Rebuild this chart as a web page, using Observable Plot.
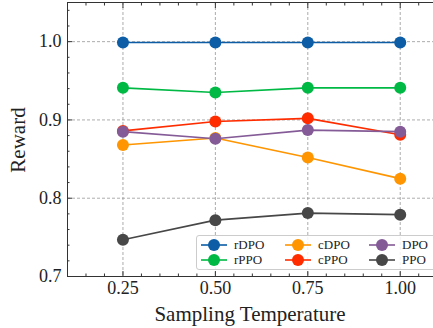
<!DOCTYPE html>
<html><head><meta charset="utf-8">
<script src="https://cdn.jsdelivr.net/npm/d3@7"></script>
<script src="https://cdn.jsdelivr.net/npm/@observablehq/plot@0.6"></script>
<style>
body{margin:0;background:#fff;}
#wrap{position:relative;width:433px;height:328px;font-family:"Liberation Serif","DejaVu Serif",serif;}
#legend{position:absolute;left:196px;top:235px;width:240px;height:35px;background:rgba(255,255,255,0.85);border:1px solid #ccc;border-radius:3px;box-sizing:border-box;}
#legend .item{position:absolute;font-size:13px;color:#222;display:flex;align-items:center;}
</style>
</head><body>
<div id="wrap"><div id="chart"></div><div id="legend"></div></div>
<script>
const temps = [0.25, 0.50, 0.75, 1.00];
const series = ["rDPO", "rPPO", "cDPO", "cPPO", "DPO", "PPO"];
const colors = ["#0C5DA5", "#00B945", "#FF9500", "#FF2C00", "#845B97", "#474747"];
const rDPO = [0.999, 0.999, 0.999, 0.999];
const rPPO = [0.941, 0.935, 0.941, 0.941];
const cDPO = [0.868, 0.877, 0.852, 0.825];
const cPPO = [0.886, 0.898, 0.902, 0.881];
const DPO  = [0.885, 0.876, 0.887, 0.885];
const PPO  = [0.747, 0.772, 0.781, 0.779];
const xTicks = [0.25, 0.50, 0.75, 1.00];
const yTicks = [0.7, 0.8, 0.9, 1.0];

const values = {rDPO, rPPO, cDPO, cPPO, DPO, PPO};
const data = series.flatMap(s => temps.map((t, i) => ({series: s, t, v: values[s][i]})));
const xMinor = d3.range(0.1, 1.1, 0.05).map(d => +d.toFixed(2)).filter(d => !xTicks.includes(d));
const yMinor = d3.range(0.7, 1.05, 0.02).map(d => +d.toFixed(2)).filter(d => !yTicks.some(t => Math.abs(t - d) < 1e-9));

const font = "Liberation Serif, DejaVu Serif, serif";
const chart = Plot.plot({
  width: 433, height: 328,
  marginLeft: 67, marginRight: 0, marginTop: 2, marginBottom: 52,
  style: {fontFamily: font, fontSize: "18px", color: "#222", background: "transparent"},
  x: {domain: [0.1, 1.09], label: null},
  y: {domain: [0.7, 1.05], label: null},
  color: {domain: series, range: colors},
  marks: [
    Plot.gridX(xTicks, {stroke: "#888", strokeOpacity: 1, strokeWidth: 0.7, strokeDasharray: "3,2"}),
    Plot.gridY(yTicks, {stroke: "#888", strokeOpacity: 1, strokeWidth: 0.7, strokeDasharray: "3,2"}),
    Plot.axisX(xTicks, {tickSize: 0, tickPadding: 5, tickFormat: d3.format(".2f"), fontSize: 18, fill: "#222", label: null}),
    Plot.axisY(yTicks, {tickSize: 0, tickPadding: 6, tickFormat: d3.format(".1f"), fontSize: 18, fill: "#222", label: null}),
    Plot.axisX(xTicks, {anchor: "bottom", tickSize: -5, text: null, label: null, stroke: "#333"}),
    Plot.axisX(xMinor, {anchor: "bottom", tickSize: -2.5, text: null, label: null, stroke: "#333"}),
    Plot.axisX(xTicks, {anchor: "top", tickSize: -5, text: null, label: null, stroke: "#333"}),
    Plot.axisX(xMinor, {anchor: "top", tickSize: -2.5, text: null, label: null, stroke: "#333"}),
    Plot.axisY(yTicks, {anchor: "left", tickSize: -5, text: null, label: null, stroke: "#333"}),
    Plot.axisY(yMinor, {anchor: "left", tickSize: -2.5, text: null, label: null, stroke: "#333"}),
    Plot.line(data, {x: "t", y: "v", z: "series", stroke: "series", strokeWidth: 1.6}),
    Plot.dot(data, {x: "t", y: "v", fill: "series", r: 6}),
    Plot.frame({stroke: "#333", strokeWidth: 1})
  ]
});
document.getElementById("chart").appendChild(chart);

// axis titles
const svg = d3.select(chart);
svg.append("text").attr("x", 250).attr("y", 321).attr("text-anchor", "middle")
  .attr("font-size", 21).attr("fill", "#222").attr("font-family", font).text("Sampling Temperature");
svg.append("text").attr("transform", "translate(25,140) rotate(-90)").attr("text-anchor", "middle")
  .attr("font-size", 21).attr("fill", "#222").attr("font-family", font).text("Reward");

// legend
const leg = document.getElementById("legend");
const colX = [4, 88, 172];
series.forEach((s, i) => {
  const col = Math.floor(i / 2), row = i % 2;
  const div = document.createElement("div");
  div.className = "item";
  div.style.left = colX[col] + "px";
  div.style.top = (row * 15 + 1) + "px";
  div.innerHTML = `<svg width="28" height="14"><line x1="0" y1="7" x2="26" y2="7" stroke="${colors[i]}" stroke-width="1.6"/><circle cx="13" cy="7" r="6" fill="${colors[i]}"/></svg><span style="margin-left:5px">${s}</span>`;
  leg.appendChild(div);
});
</script>
</body></html>
